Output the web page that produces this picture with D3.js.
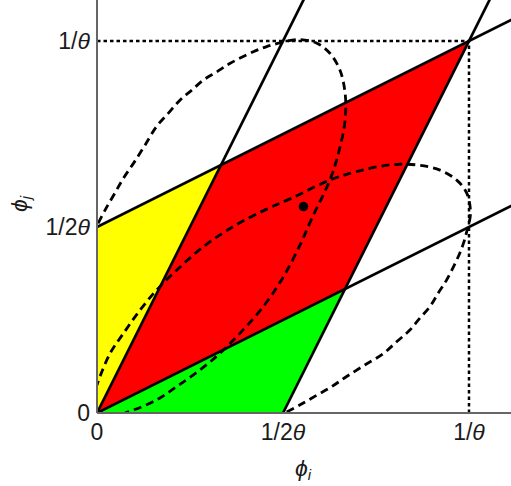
<!DOCTYPE html>
<html>
<head>
<meta charset="utf-8">
<script src="https://cdn.jsdelivr.net/npm/d3@7/dist/d3.min.js"></script>
<style>
html,body{margin:0;padding:0;background:#fff;}
svg{display:block;}
text{font-family:"Liberation Sans",Arial,sans-serif;fill:#1a1a1a;}
</style>
</head>
<body>
<svg id="chart" width="511" height="486"></svg>
<script>
// ---- data (units of 1/θ) ----
const tickValues = [0, 0.5, 1];
const tickLabels = [["0",""], ["1/2","θ"], ["1/","θ"]];

const yellowRegion = [[0,0],[0,0.5],[1/3,2/3]];
const redRegion    = [[0,0],[1/3,2/3],[1,1],[2/3,1/3]];
const greenRegion  = [[0,0],[0.5,0],[2/3,1/3]];

// solid boundary lines: two points each (extended past the frame)
const boundaryLines = [
  [[0,0.5],[1.3,1.15]],
  [[0,0],[1.3,0.65]],
  [[0,0],[0.6,1.2]],
  [[0.5,0],[1.1,1.2]]
];

// dashed closed curves (visible part)
const curveA = [
  [0.003,0.510],[0.022,0.546],[0.048,0.591],[0.071,0.631],[0.098,0.671],
  [0.129,0.720],[0.160,0.770],[0.192,0.806],[0.223,0.841],[0.255,0.868],
  [0.286,0.895],[0.322,0.917],[0.358,0.940],[0.420,0.971],[0.456,0.985],
  [0.492,0.995],[0.537,1.004],[0.591,0.994],[0.626,0.967],[0.653,0.922],
  [0.667,0.859],[0.667,0.788],[0.649,0.698],[0.626,0.626],[0.577,0.522],
  [0.546,0.452],[0.501,0.366],[0.447,0.286],[0.384,0.214],[0.330,0.160],
  [0.277,0.116],[0.214,0.071],[0.160,0.035],[0.098,0.008],[0.075,0.000]
];
const curveB = [
  [0.510,0.003],[0.546,0.022],[0.591,0.048],[0.631,0.071],[0.671,0.098],
  [0.720,0.129],[0.770,0.160],[0.806,0.192],[0.841,0.223],[0.868,0.255],
  [0.895,0.286],[0.917,0.322],[0.940,0.358],[0.971,0.420],[0.985,0.456],
  [0.995,0.492],[1.004,0.537],[0.994,0.591],[0.967,0.626],[0.922,0.653],
  [0.859,0.667],[0.788,0.667],[0.698,0.649],[0.626,0.626],[0.522,0.577],
  [0.452,0.546],[0.366,0.501],[0.286,0.447],[0.214,0.384],[0.160,0.330],
  [0.116,0.277],[0.071,0.214],[0.035,0.160],[0.008,0.098],[0.000,0.075]
];

const fixedPoint = [0.555, 0.555];

// ---- drawing ----
const svg = d3.select("#chart");
const W = 511, H = 486;
const x = d3.scaleLinear().domain([0,1]).range([97,469]);
const y = d3.scaleLinear().domain([0,1]).range([413,41]);

svg.append("defs").append("clipPath").attr("id","plotClip")
  .append("rect").attr("x", x(0)).attr("y", 0).attr("width", W - x(0)).attr("height", y(0));

const g = svg.append("g").attr("clip-path","url(#plotClip)");
const poly = d => d.map(p => [x(p[0]), y(p[1])].join(",")).join(" ");

g.append("polygon").attr("points", poly(yellowRegion)).attr("fill","#ffff00");
g.append("polygon").attr("points", poly(redRegion)).attr("fill","#ff0000");
g.append("polygon").attr("points", poly(greenRegion)).attr("fill","#00ff00");

// dotted guide lines at 1/θ
g.append("line").attr("x1", x(0)).attr("x2", x(1)).attr("y1", y(1)).attr("y2", y(1))
  .attr("stroke","#000").attr("stroke-width",2.5).attr("stroke-dasharray","3.5,3");
g.append("line").attr("x1", x(1)).attr("x2", x(1)).attr("y1", y(0)).attr("y2", y(1))
  .attr("stroke","#000").attr("stroke-width",2.5).attr("stroke-dasharray","3.5,3");

const lineGen = d3.line().x(d => x(d[0])).y(d => y(d[1]));
const curveGen = d3.line().x(d => x(d[0])).y(d => y(d[1])).curve(d3.curveCatmullRom.alpha(0.5));

[curveA, curveB].forEach(c => {
  g.append("path").attr("d", curveGen(c)).attr("fill","none")
    .attr("stroke","#000").attr("stroke-width",2.8).attr("stroke-dasharray","8,5");
});

boundaryLines.forEach(l => {
  g.append("path").attr("d", lineGen(l)).attr("fill","none")
    .attr("stroke","#000").attr("stroke-width",2.7);
});

g.append("circle").attr("cx", x(fixedPoint[0])).attr("cy", y(fixedPoint[1])).attr("r",4.8).attr("fill","#000");

// axes lines
svg.append("line").attr("x1", x(0)).attr("x2", x(0)).attr("y1", 0).attr("y2", y(0))
  .attr("stroke","#666").attr("stroke-width",2);
svg.append("line").attr("x1", x(0)).attr("x2", W).attr("y1", y(0)).attr("y2", y(0))
  .attr("stroke","#666").attr("stroke-width",2);

const FS = 23;
function addLabel(parent, parts, attrs){
  const t = parent.append("text").attr("font-size", FS);
  Object.entries(attrs).forEach(([k,v]) => t.attr(k,v));
  t.append("tspan").text(parts[0]);
  if (parts[1]) t.append("tspan").attr("font-style","italic").text(parts[1]);
  return t;
}
// y tick labels
tickValues.forEach((v,i) => {
  addLabel(svg, tickLabels[i], {x: 90, y: y(v), "text-anchor":"end", "dominant-baseline":"central"});
});
// x tick labels
tickValues.forEach((v,i) => {
  addLabel(svg, tickLabels[i], {x: x(v), y: 432, "text-anchor":"middle", "dominant-baseline":"central"});
});

// axis titles
const xt = svg.append("text").attr("x", 303).attr("y", 476).attr("text-anchor","middle").attr("font-size", 23);
xt.append("tspan").attr("font-style","italic").text("ϕ");
xt.append("tspan").attr("font-style","italic").attr("font-size",15).attr("dy",4).text("i");

const yt = svg.append("text").attr("transform","translate(27,204) rotate(-90)").attr("text-anchor","middle").attr("font-size", 23);
yt.append("tspan").attr("font-style","italic").text("ϕ");
yt.append("tspan").attr("font-style","italic").attr("font-size",15).attr("dy",4).text("j");
</script>
</body>
</html>
